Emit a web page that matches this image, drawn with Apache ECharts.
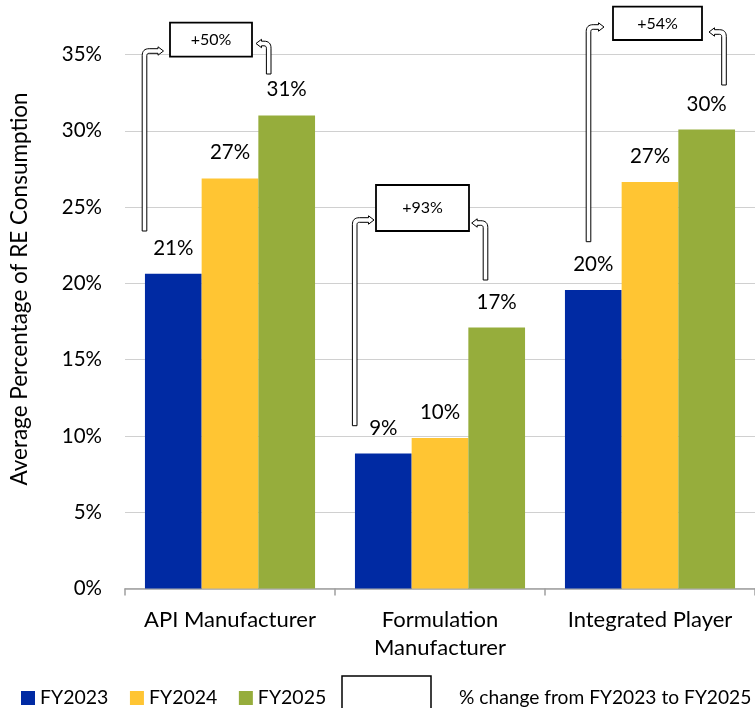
<!DOCTYPE html>
<html>
<head>
<meta charset="utf-8">
<script src="https://cdn.jsdelivr.net/npm/echarts@6/dist/echarts.min.js"></script>
<style>
  html, body { margin: 0; padding: 0; background: #ffffff; }
  #chart { width: 755px; height: 708px; }
</style>
</head>
<body>
<div id="chart"></div>
<script>
// ---- data -------------------------------------------------------------
const categories = ['API Manufacturer', 'Formulation\nManufacturer', 'Integrated Player'];
const seriesNames = ['FY2023', 'FY2024', 'FY2025'];
const fy2023 = [20.63, 8.85, 19.56];
const fy2024 = [26.88, 9.86, 26.64];
const fy2025 = [31.01, 17.1, 30.09];
const yMin = 0, yMax = 35, yStep = 5;
const changeLabels = ['+50%', '+93%', '+54%'];
const axisTitle = 'Average Percentage of RE Consumption';
const noteLabel = '% change from FY2023 to FY2025';

// ---- look -------------------------------------------------------------
const FONT = 'Lato';
const colors = ['#002AA3', '#FFC533', '#96AD3C'];

// callout boxes and bent arrows (pixel layout)
const calloutLayout = [
  { box: [170, 22.7, 82, 34],   left: { x: 144.5, yb: 231,   hy: 51,  tip: 163.5 }, right: { x: 268.7, yb: 74,  hy: 43.5, tip: 256 } },
  { box: [376, 185, 93, 46],    left: { x: 354.7, yb: 425.7, hy: 220, tip: 374 },   right: { x: 485.5, yb: 280, hy: 223,  tip: 471.7 } },
  { box: [613, 6.7, 89, 33.3],  left: { x: 588.5, yb: 241.7, hy: 27,  tip: 604 },   right: { x: 724,   yb: 85,  hy: 32,   tip: 709 } }
];

// sample a quadratic curve into points
function quad(p0, c, p1, n) {
  const pts = [];
  for (let k = 1; k <= n; k++) {
    const t = k / n, u = 1 - t;
    pts.push([u * u * p0[0] + 2 * u * t * c[0] + t * t * p1[0],
              u * u * p0[1] + 2 * u * t * c[1] + t * t * p1[1]]);
  }
  return pts;
}

// Outline of an "up then turn" arrow: vertical shaft rising from yb,
// rounded corner, short horizontal run ending in an arrowhead at tip.
function bentArrowPoints(a) {
  const dir = a.tip > a.x ? 1 : -1;
  const w = 2.3, R = 7, r = Math.max(R - 2 * w, 1), hh = 4.2, hl = 5.5;
  const X = (dx) => a.x + dir * dx;          // mirror about the shaft
  const tipDx = Math.abs(a.tip - a.x);
  const baseDx = tipDx - hl;
  const yo = a.hy - w, yi = a.hy + w;
  let pts = [[X(-w), a.yb], [X(-w), yo + R]];
  pts = pts.concat(quad([X(-w), yo + R], [X(-w), yo], [X(-w + R), yo], 8));
  pts.push([X(baseDx), yo], [X(baseDx), a.hy - hh], [X(tipDx), a.hy],
           [X(baseDx), a.hy + hh], [X(baseDx), yi], [X(w + r), yi]);
  pts = pts.concat(quad([X(w + r), yi], [X(w), yi], [X(w), yi + r], 4));
  pts.push([X(w), a.yb]);
  return pts;
}

const graphics = [];
calloutLayout.forEach((c, i) => {
  [c.left, c.right].forEach((a) => {
    graphics.push({
      type: 'polygon',
      shape: { points: bentArrowPoints(a) },
      style: { fill: '#ffffff', stroke: '#000000', lineWidth: 1 },
      z: 100
    });
  });
  graphics.push({
    type: 'rect',
    shape: { x: c.box[0], y: c.box[1], width: c.box[2], height: c.box[3] },
    style: { fill: '#ffffff', stroke: '#000000', lineWidth: 1.8 },
    z: 100
  });
  graphics.push({
    type: 'text',
    x: c.box[0] + c.box[2] / 2,
    y: c.box[1] + c.box[3] / 2,
    style: {
      text: changeLabels[i], fill: '#000000', font: '16px ' + FONT,
      align: 'center', verticalAlign: 'middle'
    },
    z: 101
  });
});

// y-axis title
graphics.push({
  type: 'text', x: 20, y: 289, rotation: Math.PI / 2,
  style: {
    text: axisTitle, fill: '#000000', font: '22.5px ' + FONT,
    align: 'center', verticalAlign: 'middle'
  }
});

// legend entry for the callout boxes
graphics.push({
  type: 'rect',
  shape: { x: 342, y: 676, width: 89, height: 40 },
  style: { fill: 'none', stroke: '#000000', lineWidth: 1.5 }
});
graphics.push({
  type: 'text', x: 459, y: 697.5,
  style: {
    text: noteLabel, fill: '#000000', font: '19.2px ' + FONT,
    align: 'left', verticalAlign: 'middle'
  }
});

const valueLabel = {
  show: true,
  position: 'top',
  distance: 15,
  color: '#000000',
  fontFamily: FONT,
  fontSize: 20.5,
  formatter: (p) => Math.round(p.value) + '%'
};

const seriesData = [fy2023, fy2024, fy2025];

const option = {
  animation: false,
  backgroundColor: '#ffffff',
  textStyle: { fontFamily: FONT },
  grid: { left: 125, right: 0, top: 54.5, bottom: 119.5 },
  legend: {
    data: seriesNames,
    left: 16,
    top: 683,
    icon: 'rect',
    itemWidth: 14,
    itemHeight: 14,
    itemGap: 21.5,
    textStyle: { fontFamily: FONT, fontSize: 19.5, color: '#000000' }
  },
  xAxis: {
    type: 'category',
    data: categories,
    axisLine: { lineStyle: { color: '#a0a0a0', width: 1.5 } },
    axisTick: { show: true, interval: 0, alignWithLabel: false, length: 7, lineStyle: { color: '#a0a0a0', width: 1.5 } },
    axisLabel: { interval: 0, hideOverlap: false, color: '#000000', fontSize: 22, fontFamily: FONT, margin: 17, lineHeight: 28 }
  },
  yAxis: {
    type: 'value',
    min: yMin,
    max: yMax,
    interval: yStep,
    axisLine: { show: false },
    axisTick: { show: false },
    splitLine: { lineStyle: { color: '#d0d0d0', width: 1.2 } },
    axisLabel: { color: '#000000', fontSize: 20.5, fontFamily: FONT, margin: 23, formatter: '{value}%' }
  },
  series: seriesNames.map((name, i) => ({
    name,
    type: 'bar',
    data: seriesData[i],
    barGap: '0%',
    barCategoryGap: '19%',
    itemStyle: { color: colors[i] },
    label: valueLabel
  })),
  graphic: graphics
};

const chart = echarts.init(document.getElementById('chart'), null, { renderer: 'canvas' });
chart.setOption(option);
</script>
</body>
</html>
